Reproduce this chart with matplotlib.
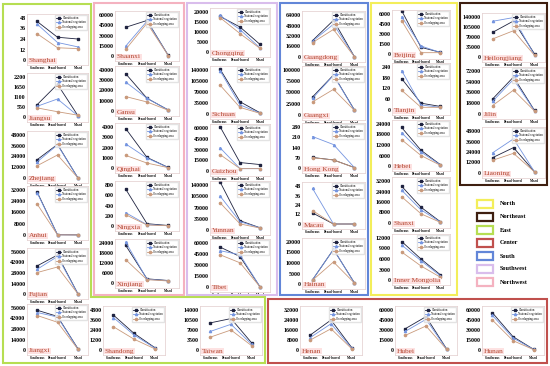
import matplotlib
matplotlib.use('Agg')
import matplotlib.pyplot as plt
from matplotlib.patches import Polygon, Rectangle
import numpy as np

W, H = 550, 366

categories = ['Coniferous', 'Broad-leaved', 'Mixed']
series_names = ['Classification', 'National vegetation', 'Overlapping area']

provinces = ['Shanghai', 'Jiangsu', 'Zhejiang', 'Anhui', 'Fujian', 'Jiangxi',
             'Shaanxi', 'Gansu', 'Qinghai', 'Ningxia', 'Xinjiang',
             'Chongqing', 'Sichuan', 'Guizhou', 'Yunnan', 'Tibet',
             'Guangdong', 'Guangxi', 'Hong Kong', 'Macau', 'Hainan',
             'Beijing', 'Tianjin', 'Hebei', 'Shanxi', 'Inner Mongolia',
             'Heilongjiang', 'Jilin', 'Liaoning',
             'Shandong', 'Taiwan', 'Henan', 'Hubei', 'Hunan']

y_top = [48, 2200, 48000, 32000, 56000, 56000,
         60000, 40000, 4000, 800, 24000,
         20000, 140000, 60000, 140000, 60000,
         64000, 100000, 280, 48, 20000,
         6000, 240, 24000, 32000, 12000,
         140000, 72000, 48000,
         4800, 14000, 32000, 60000, 60000]

classification = [
    [44, 26, 24], [680, 1800, 80], [20500, 37500, 300], [30500, 200, 100], [37500, 52000, 500], [53000, 44800, 2000],
    [42000, 52000, 800], [36400, 12400, 1000], [3850, 1030, 50], [720, 45, 10], [22600, 2500, 1500],
    [17800, 12500, 3800], [143000, 39000, 4000], [62000, 11800, 9000], [150000, 29000, 7000], [54500, 41500, 300],
    [25000, 56000, 300], [40000, 89000, 11000], [72, 55, 3], [14, 0, 0], [2000, 16500, 500],
    [6500, 1000, 250], [175, 38, 20], [22000, 9000, 800], [28000, 12000, 1000], [11000, 6000, 1500],
    [86000, 126000, 11000], [25000, 62000, 6000], [17500, 29000, 1500],
    [4200, 2000, 300], [9500, 11000, 2500], [12000, 24000, 2000], [32000, 50000, 1500], [56000, 20000, 1000],
]

national = [
    [41, 20, 15], [590, 990, 70], [18000, 37000, 250], [30000, 150, 100], [33000, 50000, 400], [50000, 44000, 1500],
    [14400, 51000, 700], [28300, 12400, 900], [2350, 970, 40], [260, 25, 8], [24600, 2200, 1400],
    [18300, 11200, 2000], [138000, 29000, 3000], [32500, 3300, 3300], [106000, 26000, 6500], [49500, 44000, 250],
    [24000, 50000, 250], [37000, 88000, 10500], [215, 160, 2], [45, 0, 0], [2000, 16500, 450],
    [5600, 1200, 230], [220, 28, 15], [19000, 8000, 600], [25000, 10000, 800], [10000, 5500, 1200],
    [125000, 138000, 6000], [21000, 58000, 5500], [23000, 39000, 1400],
    [3900, 1800, 250], [6500, 9000, 2000], [10000, 21000, 1500], [28000, 46000, 1000], [52000, 18000, 800],
]

overlapping = [
    [30, 14, 13], [500, 290, 100], [13700, 25700, 200], [22000, 100, 80], [28600, 36000, 300], [46000, 37000, 1200],
    [9600, 48000, 500], [14100, 8800, 700], [1230, 480, 30], [220, 20, 5], [14000, 2000, 1200],
    [17200, 9200, 1800], [92000, 21000, 2000], [23000, 3300, 3300], [85000, 19000, 6000], [44000, 33000, 200],
    [22000, 42000, 200], [29000, 57000, 10000], [70, 55, 2], [17, 0, 0], [1800, 10500, 400],
    [5000, 200, 200], [110, 15, 15], [15000, 6000, 400], [20000, 7000, 500], [8000, 4000, 800],
    [63000, 92000, 6000], [14000, 40000, 5000], [14500, 22500, 1200],
    [2800, 1300, 150], [4500, 7000, 1500], [8000, 17000, 1000], [22000, 36000, 800], [45000, 14000, 500],
]

group_names = ['North', 'Northeast', 'East', 'Center', 'South', 'Southwest', 'Northwest']
group_colors = ['#f3ee5a', '#3e1f10', '#b6de52', '#c0504d', '#6286d8', '#d9bdec', '#f4b2c0']

# layout in pixels: column left edge / width, rows as (top tick y, zero y)
col_east = (27, 61, [(18, 60), (77, 117), (135, 178), (190, 235), (252, 294), (308, 350)])
col_nw = (115, 64, [(15, 56), (70, 111), (127, 168), (185, 226), (243, 283)])
col_sw = (210, 60, [(12, 52), (70, 114), (128, 171), (185, 230), (243, 287)])
col_s = (302, 63, [(15, 57), (70, 115), (127, 168), (186, 224), (242, 284)])
col_n = (392, 58, [(14, 54), (67, 110), (124, 166), (181, 223), (238, 280)])
col_ne = (482, 63, [(17, 57), (71, 114), (131, 173)])

layout = []
for left, width, rows in [col_east, col_nw, col_sw, col_s, col_n, col_ne]:
    for top, zero in rows:
        layout.append((left, width, top, zero))
for left in [103, 200, 300, 395, 482]:
    layout.append((left, 62, 310, 350))

line_colors = ['#1f2340', '#7595e0', '#c99a7c']
markers = ['s', '^', 'o']

plt.rcParams['font.family'] = ['Liberation Serif', 'DejaVu Serif']
fig = plt.figure(figsize=(W / 100, H / 100), dpi=100)
fig.patch.set_facecolor('white')

x = np.arange(3)
for i, name in enumerate(provinces):
    left, width, top, zero = layout[i]
    vmax = y_top[i]
    s = vmax / (zero - top)
    ax_top = top - 4
    ax_bot = zero + 5
    ax = fig.add_axes([left / W, 1 - ax_bot / H, width / W, (ax_bot - ax_top) / H])
    for vals, lab, c, m in zip([classification[i], national[i], overlapping[i]],
                               series_names, line_colors, markers):
        ax.plot(x, vals, color=c, lw=0.6, marker=m, ms=1.6, label=lab)
    ax.set_xlim(-0.5, 2.5)
    ax.set_ylim(-5 * s, vmax + 4 * s)
    ticks = np.linspace(0, vmax, 5)
    ax.set_yticks(ticks)
    ax.set_yticklabels(['%g' % t for t in ticks], fontsize=4.3, fontweight='bold')
    ax.set_xticks(x)
    ax.set_xticklabels(categories, fontsize=2.3, fontweight='bold')
    ax.tick_params(length=0, pad=1.0)
    for sp in ax.spines.values():
        sp.set_color('#e2cccc')
        sp.set_linewidth(0.5)
    ax.legend(fontsize=2.2, loc='upper right', frameon=True, edgecolor='#dddddd',
              fancybox=False, handlelength=1.6, borderpad=0.3, labelspacing=0.15,
              handletextpad=0.4, borderaxespad=0.3)
    ax.text(0.03, 0.05, name, transform=ax.transAxes, fontsize=5.3, color='#b3452f',
            bbox=dict(facecolor='#fde2e2', edgecolor='none', pad=0.4))


def px(pts):
    return [(a / W, 1 - b / H) for a, b in pts]


def box(pts, color):
    fig.add_artist(Polygon(px(pts), closed=True, fill=False, edgecolor=color,
                           lw=1.5, transform=fig.transFigure))


def rect(x0, y0, x1, y1, color):
    box([(x0, y0), (x1, y0), (x1, y1), (x0, y1)], color)


c = dict(zip(group_names, group_colors))
box([(3, 4), (91, 4), (91, 297), (265, 297), (265, 363), (3, 363)], c['East'])
rect(94, 3, 184, 295, c['Northwest'])
rect(187, 3, 277, 295, c['Southwest'])
rect(280, 3, 368, 295, c['South'])
rect(371, 3, 457, 295, c['North'])
rect(460, 3, 547, 185, c['Northeast'])
rect(268, 299, 547, 363, c['Center'])

# group legend
for k, (g, col) in enumerate(zip(group_names, group_colors)):
    yc = 204 + k * 13
    fig.add_artist(Rectangle((477 / W, 1 - (yc + 4) / H), 16 / W, 8 / H, fill=True,
                             facecolor='white', edgecolor=col, lw=1.6,
                             transform=fig.transFigure))
    fig.text(500 / W, 1 - yc / H, g, fontsize=4.5, fontweight='bold', va='center')

fig.savefig('out.png', dpi=100)
